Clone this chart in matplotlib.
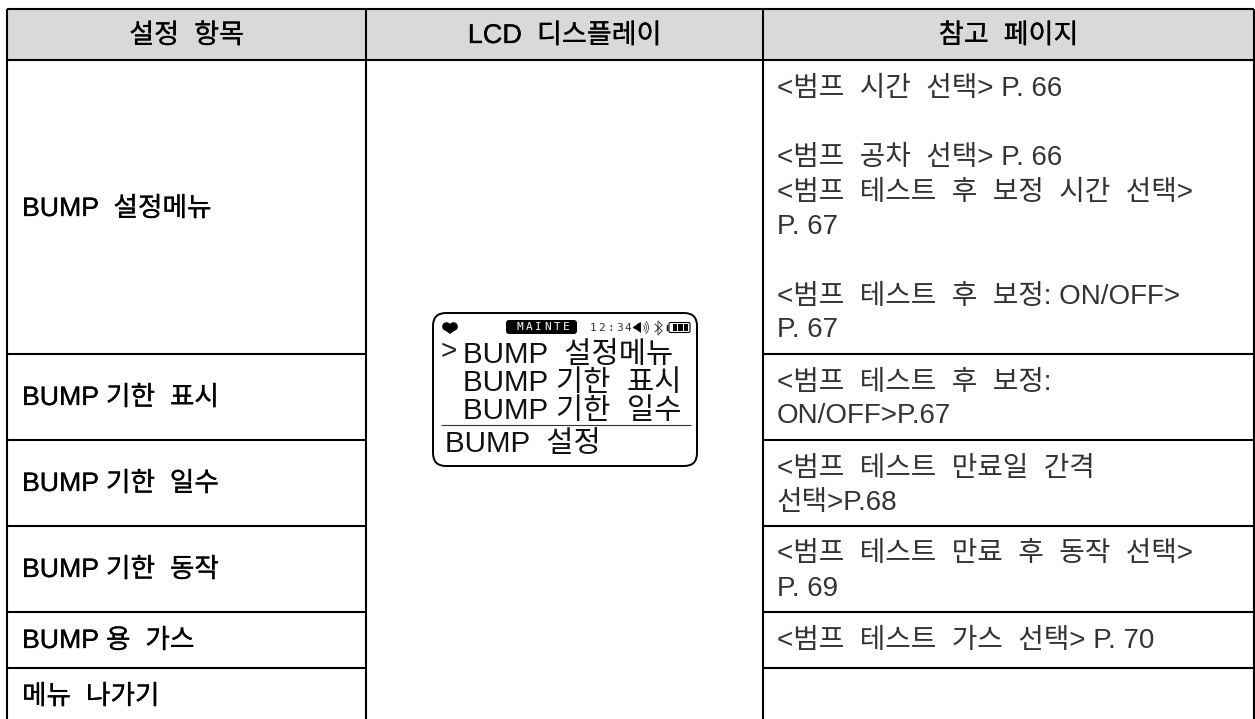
import matplotlib.pyplot as plt
import matplotlib.patheffects as pe
from matplotlib.patches import FancyBboxPatch, Rectangle, Polygon, Arc, Circle

plt.rcParams['font.family'] = ['Liberation Sans', 'Noto Sans CJK KR', 'DejaVu Sans']

# table layout in pixels
col_x = [7, 366, 763, 1254]
row_y = [9, 60, 354, 440, 526, 612, 668, 719]

headers = ['설정  항목', 'LCD  디스플레이', '참고  페이지']
items = ['BUMP  설정메뉴', 'BUMP 기한  표시', 'BUMP 기한  일수', 'BUMP 기한  동작', 'BUMP 용  가스', '메뉴  나가기']
item_y = [209, 398, 484, 570, 641, 697]

refs = ['<범프  시간  선택> P. 66',
        '<범프  공차  선택> P. 66',
        '<범프  테스트  후  보정  시간  선택>',
        'P. 67',
        '<범프  테스트  후  보정: ON/OFF>',
        'P. 67',
        '<범프  테스트  후  보정:',
        'ON/OFF>P.67',
        '<범프  테스트  만료일  간격',
        '선택>P.68',
        '<범프  테스트  만료  후  동작  선택>',
        'P. 69',
        '<범프  테스트  가스  선택> P. 70']
ref_y = [89, 158, 193, 227, 297, 330, 383, 416, 469, 503, 554, 589, 641]

lcd_lines = ['BUMP  설정메뉴', 'BUMP 기한  표시', 'BUMP 기한  일수']
lcd_y = [355, 383, 411]
lcd_title = 'BUMP  설정'

fig = plt.figure(figsize=(12.55, 7.19), dpi=100)
ax = fig.add_axes([0, 0, 1, 1])
ax.set_xlim(0, 1255)
ax.set_ylim(719, 0)
ax.axis('off')

# header band and grid
ax.add_patch(Rectangle((col_x[0], row_y[0]), col_x[3] - col_x[0], row_y[1] - row_y[0], color='#d9d9d9', lw=0))
ax.hlines(row_y[:2], col_x[0], col_x[3], color='black', lw=1.5)
ax.vlines(col_x, row_y[0], row_y[-1], color='black', lw=1.5)
for y in row_y[2:-1]:
    ax.hlines(y, col_x[0], col_x[1], color='black', lw=1.5)
    ax.hlines(y, col_x[2], col_x[3], color='black', lw=1.5)

thick = [pe.withStroke(linewidth=0.2, foreground='black')]
for i in range(3):
    ax.text((col_x[i] + col_x[i + 1]) / 2, 36, headers[i], ha='center', va='center', fontsize=19.5, color='black', path_effects=thick)
for s, y in zip(items, item_y):
    ax.text(22, y, s, ha='left', va='center', fontsize=19.2, color='black', path_effects=thick)
for s, y in zip(refs, ref_y):
    ax.text(777, y, s, ha='left', va='center', fontsize=20, color='#333333')

# LCD screen
ax.add_patch(FancyBboxPatch((433, 313), 264, 153, boxstyle='round,pad=0,rounding_size=13', fill=False, ec='black', lw=1.4))
ax.hlines(425, 441, 691, color='#333333', lw=0.8)

# heart
ax.add_patch(Circle((446.5, 326.5), 4.3, fc='black', ec='none'))
ax.add_patch(Circle((453.5, 326.5), 4.3, fc='black', ec='none'))
ax.add_patch(Polygon([[442.5, 328.5], [450, 334], [457.5, 328.5], [450, 325]], fc='black', ec='none'))

ax.add_patch(FancyBboxPatch((506, 320), 71, 14, boxstyle='round,pad=0,rounding_size=3', fc='black', ec='none'))
for i, c in enumerate('MAINTE'):
    ax.text(520 + i * 9.2, 327, c, ha='center', va='center', fontsize=8, color='white', family='DejaVu Sans Mono')
for i, c in enumerate('12:34'):
    ax.text(593 + i * 8.7, 328, c, ha='center', va='center', fontsize=8, color='#333333', family='DejaVu Sans Mono')

# speaker, bluetooth, battery
ax.add_patch(Polygon([[633, 327], [637, 324.5], [637, 324], [641, 322], [641, 333], [637, 330], [633, 328]], fc='black', ec='none'))
for r in [5, 9, 13]:
    ax.add_patch(Arc((642, 327.5), r, r * 1.2, theta1=-60, theta2=60, color='#444444', lw=0.6))
ax.plot([655, 662, 658, 658, 662, 655], [324, 331, 335, 321, 325, 332], color='#444444', lw=0.7)
ax.plot([667, 667], [325, 330], color='black', lw=1.0)
ax.add_patch(FancyBboxPatch((669, 322.5), 21, 10, boxstyle='round,pad=0,rounding_size=1.5', fill=False, ec='black', lw=0.8))
for x in [672.5, 678, 683.5]:
    ax.add_patch(Rectangle((x, 324), 4.5, 7, fc='black', ec='none'))

ax.text(448.5, 352, '>', ha='center', va='center', fontsize=20, color='#222222')
for s, y in zip(lcd_lines, lcd_y):
    ax.text(463, y, s, ha='left', va='center', fontsize=21.3, color='#111111')
ax.text(445, 444, lcd_title, ha='left', va='center', fontsize=21.3, color='#111111')

fig.savefig('out.png', dpi=100)
